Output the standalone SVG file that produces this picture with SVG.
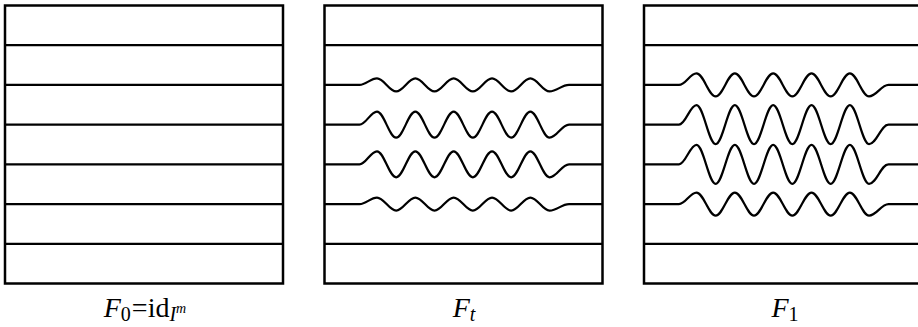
<svg xmlns="http://www.w3.org/2000/svg" width="918" height="327" viewBox="0 0 918 327">
<style>
.box{fill:#fff;stroke:#000;stroke-width:2.5}
.ln{fill:none;stroke:#000;stroke-width:2.2}
.lbl{font-family:"Liberation Serif","Times New Roman",serif;font-size:28px;fill:#000}
.it{font-style:italic}
</style>
<g id="panel-F0">
<rect class="box" x="5" y="5.5" width="278" height="278"/>
<path class="ln" d="M5,45.2H283M5,84.9H283M5,124.6H283M5,164.3H283M5,204.1H283M5,243.8H283"/>
</g>
<g id="panel-Ft">
<rect class="box" x="324.5" y="5.5" width="278" height="278"/>
<path class="ln" d="M324.5,45.2H602.5M324.5,243.8H602.5"/>
<path class="ln" d="M324.5,84.9H359.5c6.5,0 11,-6.5 17.5,-6.5c7,0 12.17,13 19.17,13c7,0 12.17,-13 19.17,-13c7,0 12.17,13 19.17,13c7,0 12.17,-13 19.17,-13c7,0 12.17,13 19.17,13c7,0 12.17,-13 19.17,-13c7,0 12.17,13 19.17,13c7,0 12.17,-13 19.17,-13c7,0 12.17,13 19.17,13c7.5,0 12,-6.5 19.5,-6.5H602.5"/>
<path class="ln" d="M324.5,124.6H359.5c6.5,0 11,-13 17.5,-13c7,0 12.17,26 19.17,26c7,0 12.17,-26 19.17,-26c7,0 12.17,26 19.17,26c7,0 12.17,-26 19.17,-26c7,0 12.17,26 19.17,26c7,0 12.17,-26 19.17,-26c7,0 12.17,26 19.17,26c7,0 12.17,-26 19.17,-26c7,0 12.17,26 19.17,26c7.5,0 12,-13 19.5,-13H602.5"/>
<path class="ln" d="M324.5,164.3H359.5c6.5,0 11,-13 17.5,-13c7,0 12.17,26 19.17,26c7,0 12.17,-26 19.17,-26c7,0 12.17,26 19.17,26c7,0 12.17,-26 19.17,-26c7,0 12.17,26 19.17,26c7,0 12.17,-26 19.17,-26c7,0 12.17,26 19.17,26c7,0 12.17,-26 19.17,-26c7,0 12.17,26 19.17,26c7.5,0 12,-13 19.5,-13H602.5"/>
<path class="ln" d="M324.5,204.1H359.5c6.5,0 11,-6.5 17.5,-6.5c7,0 12.17,13 19.17,13c7,0 12.17,-13 19.17,-13c7,0 12.17,13 19.17,13c7,0 12.17,-13 19.17,-13c7,0 12.17,13 19.17,13c7,0 12.17,-13 19.17,-13c7,0 12.17,13 19.17,13c7,0 12.17,-13 19.17,-13c7,0 12.17,13 19.17,13c7.5,0 12,-6.5 19.5,-6.5H602.5"/>
</g>
<g id="panel-F1">
<rect class="box" x="644" y="5.5" width="278" height="278"/>
<path class="ln" d="M644,45.2H922M644,243.8H922"/>
<path class="ln" d="M644,84.9H679c6.5,0 11,-11.5 17.5,-11.5c7,0 12.17,23 19.17,23c7,0 12.17,-23 19.17,-23c7,0 12.17,23 19.17,23c7,0 12.17,-23 19.17,-23c7,0 12.17,23 19.17,23c7,0 12.17,-23 19.17,-23c7,0 12.17,23 19.17,23c7,0 12.17,-23 19.17,-23c7,0 12.17,23 19.17,23c7.5,0 12,-11.5 19.5,-11.5H922"/>
<path class="ln" d="M644,124.6H679c6.5,0 11,-19.5 17.5,-19.5c7,0 12.17,39 19.17,39c7,0 12.17,-39 19.17,-39c7,0 12.17,39 19.17,39c7,0 12.17,-39 19.17,-39c7,0 12.17,39 19.17,39c7,0 12.17,-39 19.17,-39c7,0 12.17,39 19.17,39c7,0 12.17,-39 19.17,-39c7,0 12.17,39 19.17,39c7.5,0 12,-19.5 19.5,-19.5H922"/>
<path class="ln" d="M644,164.3H679c6.5,0 11,-19.5 17.5,-19.5c7,0 12.17,39 19.17,39c7,0 12.17,-39 19.17,-39c7,0 12.17,39 19.17,39c7,0 12.17,-39 19.17,-39c7,0 12.17,39 19.17,39c7,0 12.17,-39 19.17,-39c7,0 12.17,39 19.17,39c7,0 12.17,-39 19.17,-39c7,0 12.17,39 19.17,39c7.5,0 12,-19.5 19.5,-19.5H922"/>
<path class="ln" d="M644,204.1H679c6.5,0 11,-11.5 17.5,-11.5c7,0 12.17,23 19.17,23c7,0 12.17,-23 19.17,-23c7,0 12.17,23 19.17,23c7,0 12.17,-23 19.17,-23c7,0 12.17,23 19.17,23c7,0 12.17,-23 19.17,-23c7,0 12.17,23 19.17,23c7,0 12.17,-23 19.17,-23c7,0 12.17,23 19.17,23c7.5,0 12,-11.5 19.5,-11.5H922"/>
</g>
<g id="labels">
<text class="lbl" x="145" y="317" text-anchor="middle"><tspan class="it">F</tspan><tspan font-size="20" dy="4">0</tspan><tspan dy="-4" dx="1">=id</tspan><tspan class="it" font-size="20" dy="4">I</tspan><tspan class="it" font-size="14" dy="-8">m</tspan></text>
<text class="lbl" x="464" y="317" text-anchor="middle"><tspan class="it">F</tspan><tspan class="it" font-size="20" dy="4">t</tspan></text>
<text class="lbl" x="785" y="317" text-anchor="middle"><tspan class="it">F</tspan><tspan font-size="20" dy="4">1</tspan></text>
</g>
</svg>
